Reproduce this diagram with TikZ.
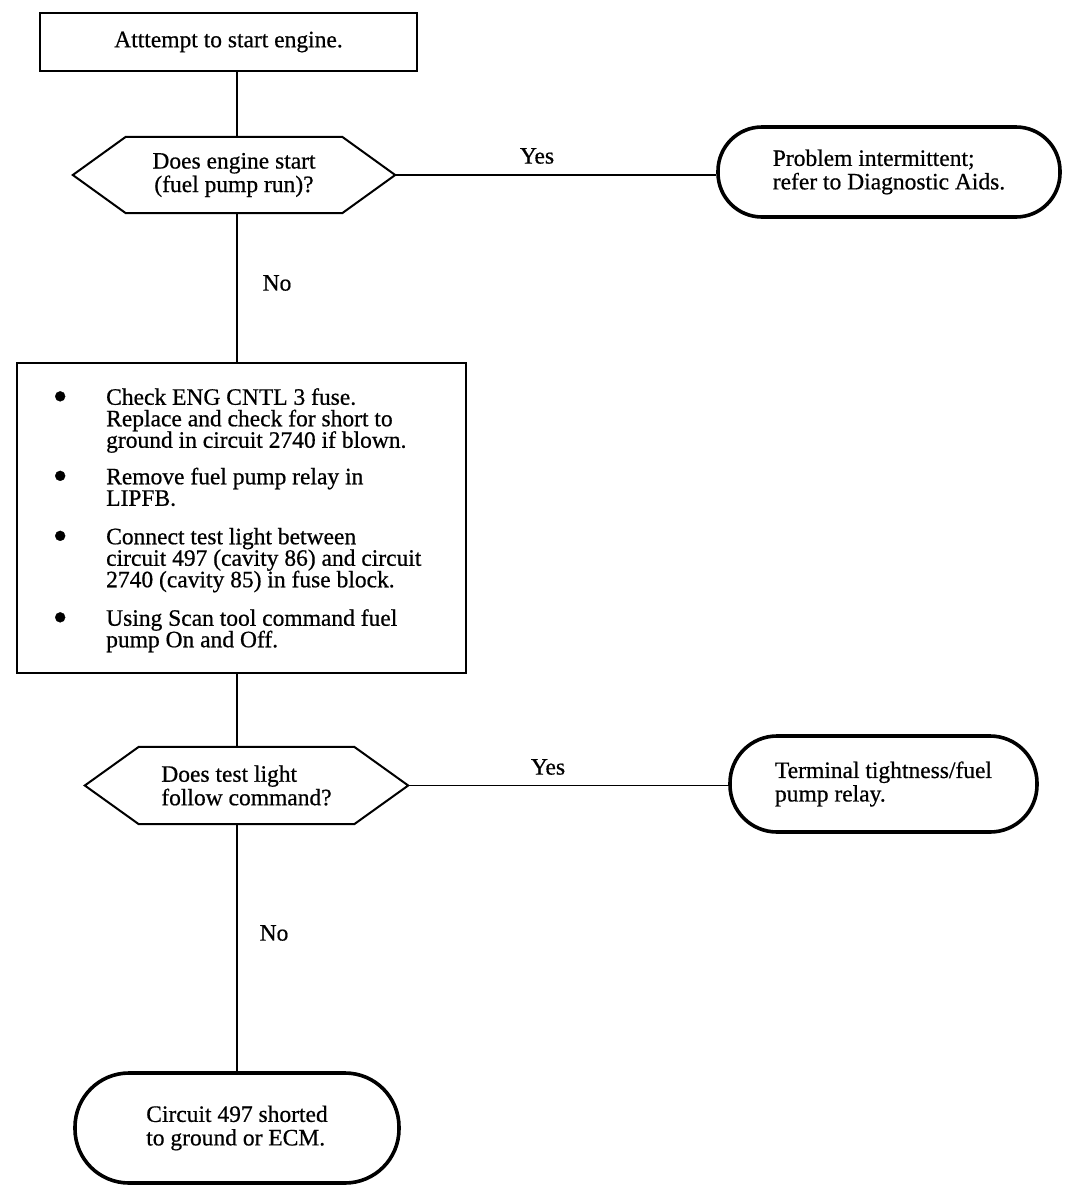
\documentclass[tikz,border=0pt]{standalone}
\usepackage{fontspec}
\setmainfont{Liberation Serif}[FakeBold=0.6]
\usetikzlibrary{calc}
\newcommand{\fcbullet}{\makebox[0pt]{\smash{\raisebox{-5.5pt}{\fontsize{42}{21.5}\selectfont\textbullet}}}\hspace*{46pt}}
\newcommand{\fcindent}{\hspace*{46pt}}
\begin{document}
\begin{tikzpicture}[x=1pt,y=-1pt,
  txt/.style={font=\fontsize{23.5}{23.5}\selectfont, align=left, inner sep=0pt},
  procbox/.style={draw, line width=2.2pt, rectangle, inner sep=0pt},
  ovalbox/.style={draw, line width=3.6pt, rectangle, inner sep=0pt},
  hexbox/.style={rectangle, inner sep=0pt},
  hexline/.style={line width=2pt, line join=miter},
  conn/.style={line width=1.6pt},
  lbl/.style={font=\fontsize{23.5}{23.5}\selectfont, inner sep=0pt}]
\useasboundingbox (0,0) rectangle (1088,1202);
\fill[white] (0,0) rectangle (1088,1202);
\coordinate (spine) at (237,0);

% start box
\node[procbox, txt, align=center, minimum width=377pt, minimum height=58pt] (b1) at (228.5,42) {Atttempt to start engine.};

% decision 1
\node[hexbox, txt, align=center, minimum width=322pt, minimum height=76pt] (h1) at (234,175) {Does engine start\\(fuel pump run)?};
\draw[hexline] (h1.west) -- ([xshift=53pt]h1.north west) -- ([xshift=-53pt]h1.north east) -- (h1.east) -- ([xshift=-53pt]h1.south east) -- ([xshift=53pt]h1.south west) -- cycle;

% terminal 1
\node[ovalbox, txt, rounded corners=44pt, minimum width=342pt, minimum height=90pt] (o1) at (889,172) {Problem intermittent;\\refer to Diagnostic Aids.};

% checks box
\node[procbox, minimum width=449pt, minimum height=310pt] (b3) at (241.5,518) {};
\node[anchor=north west, inner sep=0pt] (b3t) at (60,388) {%
\vbox{\fontsize{23.5}{21.5}\selectfont\lineskiplimit=-100pt
\hbox{\fcbullet Check ENG CNTL 3 fuse.}
\hbox{\fcindent Replace and check for short to}
\hbox{\fcindent ground in circuit 2740 if blown.}
\vskip15pt
\hbox{\fcbullet Remove fuel pump relay in}
\hbox{\fcindent LIPFB.}
\vskip17pt
\hbox{\fcbullet Connect test light between}
\hbox{\fcindent circuit 497 (cavity 86) and circuit}
\hbox{\fcindent 2740 (cavity 85) in fuse block.}
\vskip17pt
\hbox{\fcbullet Using Scan tool command fuel}
\hbox{\fcindent pump On and Off.}}};

% decision 2
\node[hexbox, txt, minimum width=323pt, minimum height=77pt] (h2) at (246.5,785.5) {Does test light\\follow command?};
\draw[hexline] (h2.west) -- ([xshift=54pt]h2.north west) -- ([xshift=-54pt]h2.north east) -- (h2.east) -- ([xshift=-54pt]h2.south east) -- ([xshift=54pt]h2.south west) -- cycle;

% terminal 2
\node[ovalbox, txt, rounded corners=47pt, minimum width=307pt, minimum height=96pt] (o2) at (883.5,784) {Terminal tightness/fuel\\pump relay.};

% terminal 3
\node[ovalbox, txt, rounded corners=54pt, minimum width=324pt, minimum height=110pt] (o3) at (237,1128) {Circuit 497 shorted\\to ground or ECM.};

% connectors
\draw[conn] (b1.south -| spine) -- (h1.north -| spine);
\draw[conn] (h1.south -| spine) -- (b3.north -| spine);
\draw[conn] (b3.south -| spine) -- (h2.north -| spine);
\draw[conn] (h2.south -| spine) -- (o3.north -| spine);
\draw[conn] (h1.east) -- (h1.east -| o1.west);
\draw[conn] (h2.east) -- (h2.east -| o2.west);

% labels
\node[lbl] (y1) at (537,156) {Yes};
\node[lbl] (n1) at (277,283) {No};
\node[lbl] (y2) at (548,767) {Yes};
\node[lbl] (n2) at (274,933) {No};
\end{tikzpicture}
\end{document}
